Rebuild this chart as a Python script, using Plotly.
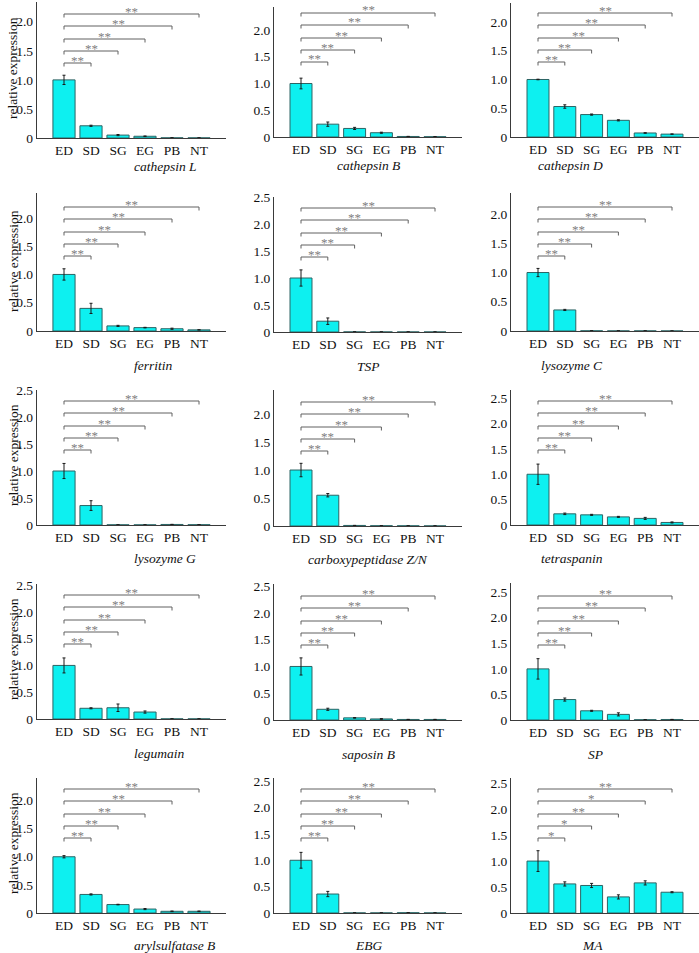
import plotly.graph_objects as go

W, H = 699, 953

tissues = ["ED", "SD", "SG", "EG", "PB", "NT"]
genes = ["cathepsin L", "cathepsin B", "cathepsin D",
         "ferritin", "TSP", "lysozyme C",
         "lysozyme G", "carboxypeptidase Z/N", "tetraspanin",
         "legumain", "saposin B", "SP",
         "arylsulfatase B", "EBG", "MA"]

cathepsin_L = [1.0, 0.21, 0.05, 0.03, 0.003, 0.002]
cathepsin_L_err = [0.08, 0.01, 0.01, 0.005, 0.001, 0.001]
cathepsin_B = [1.0, 0.24, 0.16, 0.08, 0.01, 0.005]
cathepsin_B_err = [0.1, 0.04, 0.02, 0.01, 0.002, 0.001]
cathepsin_D = [1.0, 0.53, 0.39, 0.29, 0.07, 0.05]
cathepsin_D_err = [0.005, 0.03, 0.01, 0.01, 0.005, 0.003]
ferritin = [1.0, 0.40, 0.09, 0.06, 0.04, 0.02]
ferritin_err = [0.1, 0.09, 0.01, 0.005, 0.01, 0.002]
TSP = [1.0, 0.20, 0.002, 0.001, 0.001, 0.001]
TSP_err = [0.15, 0.06, 0.0, 0.0, 0.0, 0.0]
lysozyme_C = [1.0, 0.36, 0.003, 0.002, 0.002, 0.001]
lysozyme_C_err = [0.07, 0.01, 0.0, 0.0, 0.0, 0.0]
lysozyme_G = [1.0, 0.36, 0.003, 0.002, 0.01, 0.005]
lysozyme_G_err = [0.14, 0.09, 0.0, 0.0, 0.002, 0.0]
carboxypeptidase = [1.0, 0.55, 0.01, 0.005, 0.003, 0.002]
carboxypeptidase_err = [0.12, 0.03, 0.0, 0.0, 0.0, 0.0]
tetraspanin = [1.0, 0.22, 0.20, 0.16, 0.13, 0.05]
tetraspanin_err = [0.2, 0.015, 0.01, 0.01, 0.02, 0.01]
legumain = [1.0, 0.20, 0.21, 0.13, 0.002, 0.002]
legumain_err = [0.14, 0.01, 0.07, 0.02, 0.0, 0.0]
saposin_B = [1.0, 0.20, 0.04, 0.02, 0.01, 0.01]
saposin_B_err = [0.16, 0.02, 0.005, 0.005, 0.002, 0.002]
SP = [1.0, 0.40, 0.18, 0.11, 0.005, 0.01]
SP_err = [0.2, 0.03, 0.01, 0.03, 0.0, 0.002]
arylsulfatase_B = [1.0, 0.33, 0.15, 0.07, 0.03, 0.03]
arylsulfatase_B_err = [0.02, 0.01, 0.005, 0.01, 0.005, 0.005]
EBG = [1.0, 0.36, 0.002, 0.002, 0.005, 0.002]
EBG_err = [0.15, 0.05, 0.0, 0.0, 0.0, 0.0]
MA = [1.0, 0.56, 0.53, 0.31, 0.58, 0.40]
MA_err = [0.2, 0.04, 0.04, 0.04, 0.04, 0.01]

values = [cathepsin_L, cathepsin_B, cathepsin_D, ferritin, TSP, lysozyme_C,
          lysozyme_G, carboxypeptidase, tetraspanin, legumain, saposin_B, SP,
          arylsulfatase_B, EBG, MA]
errors = [cathepsin_L_err, cathepsin_B_err, cathepsin_D_err, ferritin_err, TSP_err,
          lysozyme_C_err, lysozyme_G_err, carboxypeptidase_err, tetraspanin_err,
          legumain_err, saposin_B_err, SP_err, arylsulfatase_B_err, EBG_err, MA_err]

default_sig = ["**", "**", "**", "**", "**"]
significance = [default_sig] * 14 + [["*", "*", "**", "*", "**"]]

top_tick = [2.0, 2.0, 2.0, 2.0, 2.5, 2.0, 2.5, 2.0, 2.5, 2.5, 2.5, 2.5, 2.0, 2.5, 2.5]

# ---- layout geometry (pixels) ----
col_first = [64, 301, 538]      # ED centre
col_step = [27, 26.8, 26.8]
base_px = [138, 137, 137, 331, 332, 331, 525, 526, 525, 719, 720, 720, 913, 913, 913]
top_px = [2, 7, 3, 193, 197, 193, 390, 390, 390, 584, 584, 583, 778, 778, 778]
ymax = [2.34, 2.43, 2.33, 2.44, 2.50, 2.36, 2.50, 2.43, 2.66, 2.52, 2.54, 2.68, 2.40, 2.56, 2.60]
gene_off = [28, 28, 28, 34, 34, 34, 33, 33, 33, 34, 34, 34, 32, 32, 32]
bracket_off = [75, 87, 99, 112, 124]

FONT = "Liberation Serif"
BAR = "#0DF0F0"
EDGE = "#2C6464"
AX = "#3A3A3A"
LINE_GREY = "#606060"
STAR_GREY = "#808080"

fig = go.Figure()
shapes = []
annotations = []

for i in range(15):
    r, c = divmod(i, 3)
    n = i + 1
    xa = "x" if n == 1 else f"x{n}"
    ya = "y" if n == 1 else f"y{n}"
    fig.add_trace(go.Bar(
        x=list(range(6)), y=values[i], xaxis=xa, yaxis=ya,
        width=0.82,
        marker=dict(color=BAR, line=dict(color=EDGE, width=1)),
        error_y=dict(type="data", array=errors[i], visible=True,
                     color="#1A1A1A", thickness=1, width=1.5),
        showlegend=False, hoverinfo="skip"))

    left = col_first[c] - col_step[c]
    right = col_first[c] + 6 * col_step[c]
    xdom = [left / W, min(right / W, 1.0)]
    ydom = [1 - base_px[i] / H, 1 - top_px[i] / H]
    tv = [v / 2 for v in range(int(top_tick[i] * 2) + 1)]
    tt = ["0" if v == 0 else f"{v:.1f}" for v in tv]

    fig.layout[f"xaxis{'' if n == 1 else n}"] = dict(
        domain=xdom, range=[-1, 6], anchor=ya, tickvals=list(range(6)),
        ticktext=tissues, showline=True, linecolor=AX, linewidth=1.2,
        ticks="", showgrid=False, zeroline=False, automargin=False,
        tickfont=dict(family=FONT, size=13.5, color="#111"))
    fig.layout[f"yaxis{'' if n == 1 else n}"] = dict(
        domain=ydom, range=[0, ymax[i]], anchor=xa, tickvals=tv, ticktext=tt,
        showline=True, linecolor=AX, linewidth=1.2, ticks="", showgrid=False,
        zeroline=False, automargin=False,
        tickfont=dict(family=FONT, size=13.5, color="#111"))

    h = base_px[i] - top_px[i]
    x0 = 0
    for k, off in enumerate(bracket_off):
        x1 = k + 1
        yb = off / h
        t = 3.5 / h
        shapes.append(dict(
            type="path", xref=xa, yref=f"{ya} domain",
            path=f"M {x0},{yb - t} L {x0},{yb} L {x1},{yb} L {x1},{yb - t}",
            line=dict(color=LINE_GREY, width=1)))
        annotations.append(dict(
            x=(x0 + x1) / 2, y=yb, xref=xa, yref=f"{ya} domain",
            text=significance[i][k], showarrow=False, yanchor="middle",
            yshift=3, font=dict(family=FONT, size=13, color=STAR_GREY)))

    cx = col_first[c] + 2.5 * col_step[c]
    annotations.append(dict(
        x=cx / W, y=1 - (base_px[i] + gene_off[i]) / H, xref="paper", yref="paper",
        text=f"<i>{genes[i]}</i>", showarrow=False, yanchor="middle",
        font=dict(family=FONT, size=13.5, color="#111")))
    if c == 0:
        annotations.append(dict(
            x=13 / W, y=1 - (base_px[i] - 70) / H, xref="paper", yref="paper",
            text="relative expression", textangle=-90, showarrow=False,
            xanchor="center", yanchor="middle",
            font=dict(family=FONT, size=13.5, color="#111")))

fig.update_layout(template="none", width=W, height=H,
                  margin=dict(l=0, r=0, t=0, b=0, pad=0),
                  plot_bgcolor="white", paper_bgcolor="white",
                  shapes=shapes, annotations=annotations, bargap=0)
fig.write_html("out.html",
               config={"displayModeBar": False, "staticPlot": True},
               post_script="document.body.style.margin='0px';"
                           "document.body.style.padding='0px';"
                           "document.body.style.overflow='hidden';")
